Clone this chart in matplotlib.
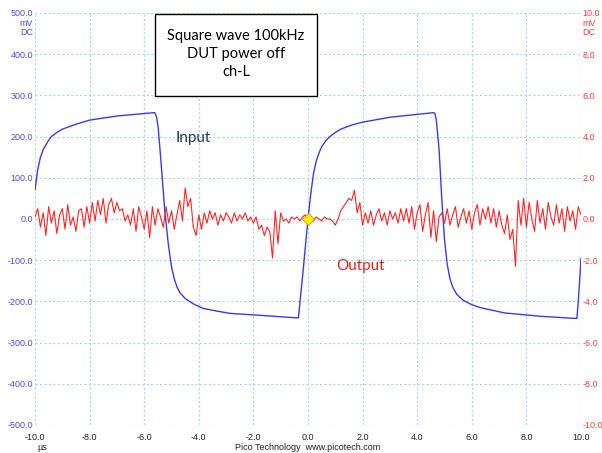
import numpy as np
import matplotlib.pyplot as plt
from matplotlib.patches import Rectangle

plt.rcParams['font.family'] = ['Liberation Sans', 'DejaVu Sans']

# ── Channel A (input, left axis, mV) ─────────────────────────────────────────
t_in = [-10.0, -9.9, -9.8, -9.7, -9.6, -9.5, -9.4, -9.2, -9.0, -8.5, -8.0,
        -7.0, -6.0, -5.65, -5.61, -5.55, -5.49, -5.37, -5.25, -5.12, -5.0,
        -4.9, -4.8, -4.7, -4.5, -4.2, -3.84, -3.3, -2.86, -1.5, -0.4,
        -0.35, -0.3, -0.2, -0.1, 0.0, 0.1, 0.2, 0.3, 0.4, 0.5, 0.65, 0.8,
        1.0, 1.2, 1.6, 2.0, 3.0, 4.0, 4.6, 4.65, 4.7, 4.8, 4.9, 5.0, 5.1,
        5.2, 5.3, 5.45, 5.7, 6.0, 6.3, 7.2, 8.5, 9.7, 9.85, 9.9, 9.95, 10.0]
v_in = [70, 120, 150, 168, 180, 191, 200, 210, 218, 230, 240,
        250, 256, 258, 258, 248, 224, 127, 22, -59, -116,
        -145, -165, -178, -193, -206, -217, -224, -229, -235, -240,
        -240, -205, -140, -70, 0, 60, 110, 140, 160, 175, 190, 200,
        210, 218, 228, 235, 247, 254, 258, 256, 240, 170, 50, -50, -110,
        -145, -165, -183, -198, -208, -215, -228, -236, -241, -241, -200,
        -150, -95]

# ── Channel B (output, right axis, mV), 0.1 us spacing ──────────────────────
t_out = np.round(np.arange(-10.0, 10.05, 0.1), 2)
v_out = [
    0.1, 0.5, -0.4, 0.3, -0.8, 0.6, -0.2, 0.4, -0.7, 0.2, 0.5, -0.5, 0.7,
    -0.3, 0.1, -0.6, 0.4, 0.5, -0.4, 0.6, -0.2,
    0.8, -0.1, 0.9, 0.2, 1.0, -0.2, 0.7, 1.0, 0.3, 0.8, 0.4, 0.5,
    -0.1, 0.2, -0.3, 0.5, -0.6, 0.6, 0.1, -0.5, 0.4, -0.9, 0.6, -0.3, 0.5,
    0.1, -0.4, 0.6, -0.2,
    0.4, -0.5, 0.2, 0.9, -0.1, 1.5, 0.6, 1.0, -0.4, -0.8, 0.2,
    -0.5, 0.3, -0.2, 0.4, 0.0, 0.3, -0.3, 0.2, -0.1, 0.3, 0.1, -0.2, 0.3,
    -0.1, 0.2, 0.0, 0.3, -0.1, 0.1,
    -0.2, 0.1, -0.5, -0.3, -0.8, -0.4, -0.6, -1.9, 0.4, -1.2, 0.3,
    -0.1, 0.0, -0.2, 0.1, 0.0, 0.1, -0.1, 0.1, 0.2, 0.0, 0.1, -0.1, 0.1,
    0.0, -0.1, 0.1, 0.0, 0.0, -0.1,
    -0.3, 0.0, 0.4, 0.6, 0.8, 1.0, 0.9, 1.4, 0.3, 0.8, -0.3,
    0.3, -0.2, 0.4, -0.3, 0.2, 0.5, -0.1, 0.3, -0.3, 0.4, 0.0, 0.3, -0.2,
    0.5, -0.1,
    0.5, -0.2, 0.6, -0.5, 0.3, 0.7, -0.6, 0.2, 0.8, -0.9, 0.4, -1.1, 0.1,
    0.3, -0.2, 0.5, -0.3, 0.2, 0.6, -0.4, 0.1, 0.5, -0.2, 0.4, -0.5, 0.3,
    0.7, -0.3, 0.5, 0.0, 0.6, -0.2, 0.5, -0.4,
    0.4, -0.3, -0.7, 0.2, -1.0, -0.5, -2.3, 0.9, -0.3, 1.0,
    -0.4, 0.8, 0.0, -0.6, 0.9, -0.2, 0.5, -0.5, 0.8, 0.1, -0.3, 0.7, -0.2,
    0.5, -0.6, 0.6, -0.1, 0.4, -0.5, 0.6, 0.2,
]

x_ticks = [-10, -8, -6, -4, -2, 0, 2, 4, 6, 8, 10]
y_left_ticks = [-500, -400, -300, -200, -100, 0, 100, 200, 300, 400, 500]
y_right_ticks = [-10, -8, -6, -4, -2, 0, 2, 4, 6, 8, 10]

BLUE = '#3a3af0'
RED = '#ff2424'
LBL_BLUE = '#4a4aff'
LBL_RED = '#ff3a3a'
GRID = '#a9d6e5'

fig = plt.figure(figsize=(6.02, 4.53), dpi=100)
ax = fig.add_axes([35 / 602, 1 - 425 / 453, 546 / 602, 412 / 453])
ax2 = ax.twinx()

ax.set_xlim(-10, 10)
ax.set_ylim(-500, 500)
ax2.set_ylim(-10, 10)

for a in (ax, ax2):
    for s in a.spines.values():
        s.set_visible(False)

ax.set_xticks(x_ticks)
ax.set_xticklabels([f'{v:.1f}' for v in x_ticks])
ax.set_yticks(y_left_ticks)
ax.set_yticklabels([f'{v:.1f}' for v in y_left_ticks])
ax2.set_yticks(y_right_ticks)
ax2.set_yticklabels([f'{v:.1f}' for v in y_right_ticks])

ax.tick_params(axis='y', length=0, labelsize=6.5, pad=1.5, labelcolor=LBL_BLUE)
ax.tick_params(axis='x', length=0, labelsize=6.5, pad=6, labelcolor='#222222')
ax2.tick_params(axis='y', length=0, labelsize=6.5, pad=1, labelcolor=LBL_RED)

ax.grid(True, color=GRID, linestyle=(0, (2, 2)), linewidth=0.8)
ax.set_axisbelow(True)

ax.plot(t_in, v_in, color=BLUE, linewidth=1.0, zorder=3)
ax2.plot(t_out, v_out, color=RED, linewidth=0.8, zorder=2)
ax2.plot([0], [0], marker='D', markersize=6, color='#ffee00',
         markeredgecolor='#c8a000', markeredgewidth=0.6, zorder=5)

# unit labels
ax.text(-0.004, 0.985, 'mV\nDC', transform=ax.transAxes, ha='right', va='top',
        fontsize=6.5, color=LBL_BLUE, linespacing=0.95)
ax2.text(1.003, 0.985, 'mV\nDC', transform=ax2.transAxes, ha='left', va='top',
         fontsize=6.5, color=LBL_RED, linespacing=0.95)
fig.text(37 / 602, 1 - 447 / 453, 'µs', fontsize=6.5, color='#222222',
         ha='left', va='center')
fig.text(308 / 602, 1 - 447 / 453, 'Pico Technology  www.picotech.com',
         fontsize=6.5, color='#222222', ha='center', va='center')

# title box
fig.patches.append(Rectangle((155 / 602, 1 - 96 / 453), 162 / 602, 82 / 453,
                             transform=fig.transFigure, facecolor='white',
                             edgecolor='black', linewidth=1.0, zorder=10))
fig.text(236 / 602, 1 - 54 / 453, 'Square wave 100kHz\nDUT power off\nch-L',
         fontsize=10.5, ha='center', va='center', family=['Lato', 'DejaVu Sans'],
         linespacing=1.4, zorder=11)

fig.text(176 / 602, 1 - 138 / 453, 'Input', fontsize=11, color='#1f3864',
         ha='left', va='center', family=['Lato', 'DejaVu Sans'])
fig.text(336 / 602, 1 - 266 / 453, 'Output', fontsize=11, color='#ee1c1c',
         ha='left', va='center', family=['Lato', 'DejaVu Sans'])

fig.savefig('out.png', dpi=100)
